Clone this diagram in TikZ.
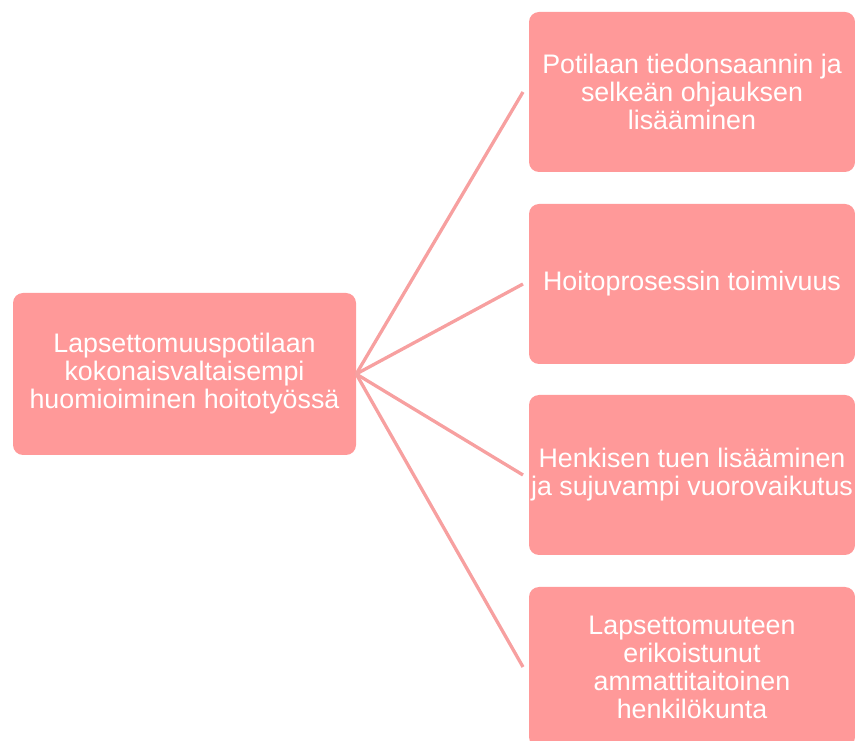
\documentclass[tikz,border=0pt]{standalone}
\usepackage{fontspec}
\setmainfont{Liberation Sans}
\definecolor{boxfill}{HTML}{FF9999}
\definecolor{linkcol}{HTML}{F7A0A0}
\begin{document}
\begin{tikzpicture}[x=1pt,y=1pt,
  box/.style={fill=boxfill, draw=none, rounded corners=10pt, text=white, align=center,
    inner sep=0pt, font=\fontsize{26.8}{28}\selectfont},
  link/.style={draw=linkcol, line width=3.3pt}]
\useasboundingbox (0,0) rectangle (855,740);
\node[box, minimum width=343, minimum height=162] (L) at (184.5,366) {Lapsettomuuspotilaan\\kokonaisvaltaisempi\\huomioiminen hoitotyössä};
\node[box, minimum width=326, minimum height=160] (R1) at (692,648) {Potilaan tiedonsaannin ja\\selkeän ohjauksen\\lisääminen};
\node[box, minimum width=326, minimum height=160] (R2) at (692,456) {Hoitoprosessin toimivuus};
\node[box, minimum width=326, minimum height=160] (R3) at (692,265) {Henkisen tuen lisääminen\\ja sujuvampi vuorovaikutus};
\node[box, minimum width=326, minimum height=160] (R4) at (692,73) {Lapsettomuuteen\\erikoistunut\\ammattitaitoinen\\henkilökunta};
\coordinate (E1) at (523,648);
\coordinate (E2) at (523,456);
\coordinate (E3) at (523,265);
\coordinate (E4) at (523,73);
\foreach \e in {E1,E2,E3,E4} \draw[link] (L.east) -- (\e);
\end{tikzpicture}
\end{document}
